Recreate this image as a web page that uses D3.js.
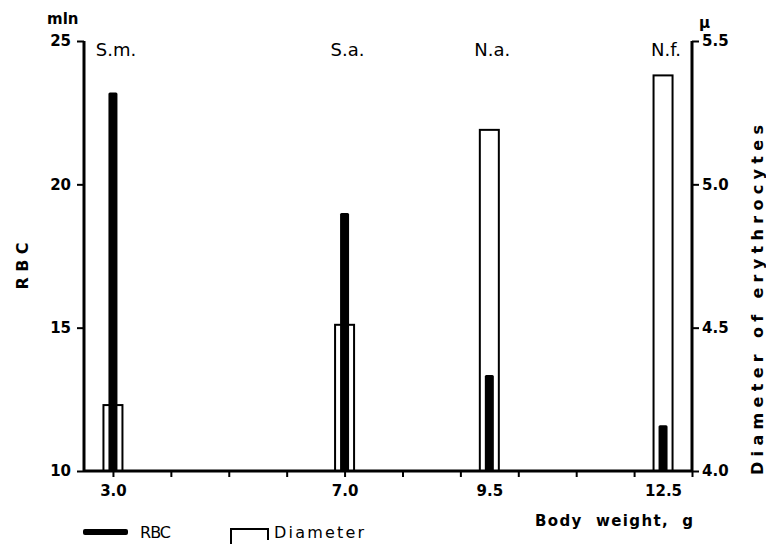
<!DOCTYPE html>
<html><head><meta charset="utf-8">
<script src="https://cdn.jsdelivr.net/npm/d3@7"></script>
<style>
html,body{margin:0;padding:0;background:#fff;}
text{font-family:"DejaVu Sans",sans-serif;fill:#000;}
</style></head>
<body><svg id="c" width="766" height="544"></svg>
<script>
const species = ["S.m.", "S.a.", "N.a.", "N.f."];
const bodyWeight = [3.0, 7.0, 9.5, 12.5];
const rbc = [23.2, 19.0, 13.35, 11.6];
const diameter = [4.23, 4.51, 5.19, 5.38];
const xTickLabels = [3.0, 7.0, 9.5, 12.5];
const xTickMarks = [3, 4, 5, 6, 7, 8, 9, 10, 11, 12, 13];
const rbcTicks = [10, 15, 20, 25];
const diamTicks = [4.0, 4.5, 5.0, 5.5];

(function () {
const svg = d3.select("#c");
const pL = 84, pR = 692, pT = 41, pB = 471;
const x = d3.scaleLinear().domain([2.5, 13]).range([pL, pR]);
const yL = d3.scaleLinear().domain([10, 25]).range([pB, pT]);
const yR = d3.scaleLinear().domain([4.0, 5.5]).range([pB, pT]);

const data = species.map((s, i) => ({s, w: bodyWeight[i], r: rbc[i], d: diameter[i]}));

// diameter bars (open)
svg.append("g").selectAll("rect").data(data).join("rect")
  .attr("x", d => x(d.w) - 9.5).attr("width", 19)
  .attr("y", d => yR(d.d)).attr("height", d => pB - yR(d.d))
  .attr("fill", "#fff").attr("stroke", "#000").attr("stroke-width", 2);

// RBC bars (filled)
svg.append("g").selectAll("rect").data(data).join("rect")
  .attr("x", d => x(d.w) - 4.5).attr("width", 9)
  .attr("y", d => yL(d.r)).attr("height", d => pB - yL(d.r))
  .attr("fill", "#000").attr("rx", 1.5);

// axes
const gL = svg.append("g").attr("transform", `translate(${pL},0)`)
  .call(d3.axisLeft(yL).tickValues(rbcTicks).tickSize(7).tickPadding(6).tickFormat(d3.format("d")));
const gR = svg.append("g").attr("transform", `translate(${pR},0)`)
  .call(d3.axisRight(yR).tickValues(diamTicks).tickSize(7).tickPadding(3).tickFormat(d3.format(".1f")));
const gB = svg.append("g").attr("transform", `translate(0,${pB})`)
  .call(d3.axisBottom(x).tickValues(xTickMarks).tickSize(6).tickFormat(""));
const gBL = svg.append("g").attr("transform", `translate(0,${pB})`)
  .call(d3.axisBottom(x).tickValues(xTickLabels).tickSize(0).tickPadding(14).tickFormat(d3.format(".1f")));
gBL.select(".domain").remove();
[gL, gR, gB].forEach(g => {
  g.select(".domain").attr("stroke", "#000").attr("stroke-width", 3);
  g.selectAll(".tick line").attr("stroke", "#000").attr("stroke-width", 2);
});
gB.select(".domain").attr("d", `M${pL},0H${pR}`);
gL.select(".domain").attr("d", `M0,${pB}V${pT}`);
gR.select(".domain").attr("d", `M0,${pB}V${pT}`);
[gL, gR, gBL].forEach(g => g.selectAll(".tick text")
  .attr("font-family", "DejaVu Sans").attr("font-weight", "bold").attr("font-size", 15).attr("fill", "#000"));

// units
svg.append("text").attr("x", 47).attr("y", 24).attr("font-size", 15).attr("font-weight", "bold").text("mln");
svg.append("text").attr("x", 699).attr("y", 28).attr("font-size", 15).attr("font-weight", "bold").text("μ");

// species labels
svg.append("g").selectAll("text").data(data).join("text")
  .attr("x", d => x(d.w) + 3).attr("y", 56).attr("text-anchor", "middle")
  .attr("font-size", 18).text(d => d.s);

// axis titles
svg.append("text").attr("transform", "translate(28,266) rotate(-90)")
  .attr("text-anchor", "middle").attr("font-size", 16).attr("font-weight", "bold")
  .attr("textLength", 47).attr("lengthAdjust", "spacing").text("RBC");
svg.append("text").attr("transform", "translate(763,300) rotate(-90)")
  .attr("text-anchor", "middle").attr("font-size", 16).attr("font-weight", "bold")
  .attr("textLength", 350).attr("lengthAdjust", "spacing").text("Diameter of erythrocytes");
svg.append("text").attr("x", 535).attr("y", 526).attr("font-size", 15).attr("font-weight", "bold")
  .attr("textLength", 158).attr("lengthAdjust", "spacing").attr("xml:space", "preserve").text("Body  weight,  g");

// legend
svg.append("rect").attr("x", 83).attr("y", 529).attr("width", 45).attr("height", 6).attr("rx", 2).attr("fill", "#000");
svg.append("text").attr("x", 140).attr("y", 538).attr("font-size", 16)
  .attr("textLength", 31).attr("lengthAdjust", "spacing").text("RBC");
svg.append("path").attr("d", "M231,544V529H268V540").attr("fill", "none").attr("stroke", "#000").attr("stroke-width", 2);
svg.append("text").attr("x", 274).attr("y", 538).attr("font-size", 16)
  .attr("textLength", 90).attr("lengthAdjust", "spacing").text("Diameter");
})();
</script></body></html>
